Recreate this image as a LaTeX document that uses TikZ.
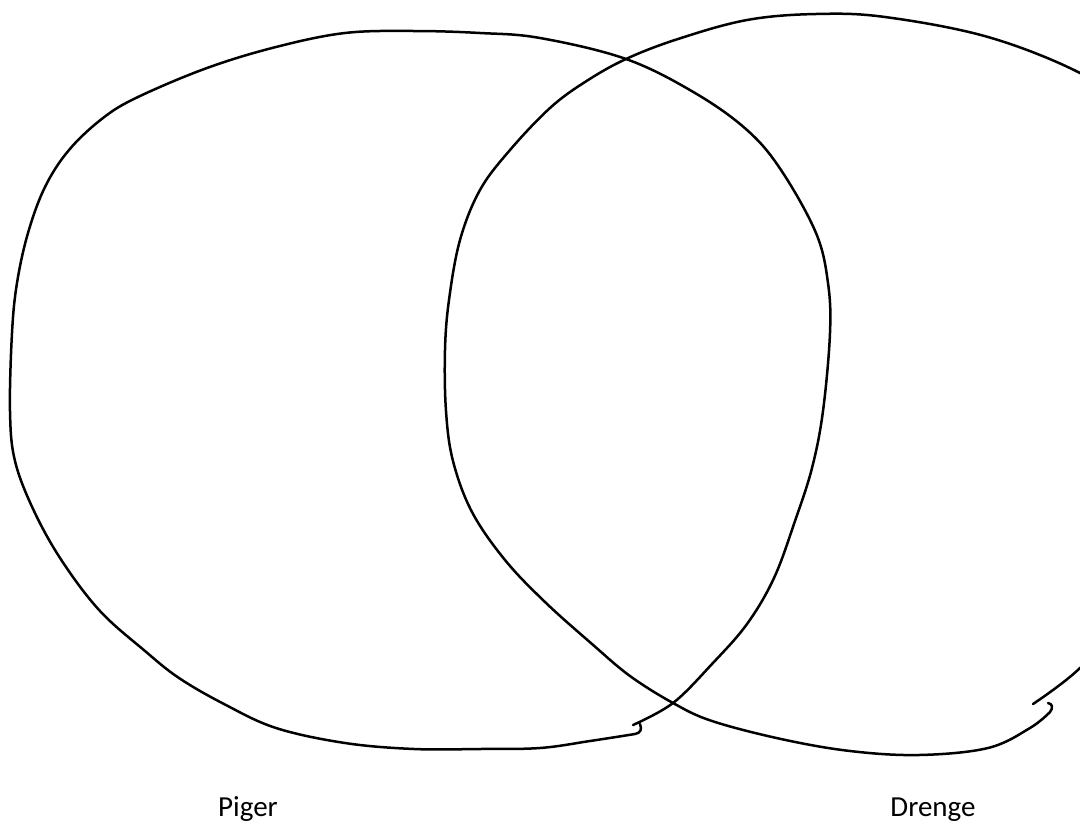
\documentclass[tikz,border=0pt]{standalone}
\usepackage{fontspec}
\setmainfont{Carlito}
\begin{document}
\begin{tikzpicture}[x=1pt,y=-1pt,
  loop/.style={line width=2.5pt,line cap=round,line join=round},
  lbl/.style={font=\fontsize{29}{31}\selectfont,anchor=base,inner sep=0pt}]
\useasboundingbox (0,0) rectangle (1080,822);
\clip (0,0) rectangle (1080,822);
% Piger loop
\draw[loop] (640,724) .. controls (642,729) and (641,733) .. (635,734)
  -- plot[smooth,tension=0.6] coordinates {(635,734) (590,741) (540,748) (480,749) (414,749) (345,743) (276,728) (224,704) (179,678) (145,651) (100,611) (62,561) (34,511) (15,461) (10,411) (12,333) (17,283) (28,233) (45,187) (69,150) (103,118) (138,97) (207,68) (276,47) (345,33) (414,31) (480,33) (540,38) (626,59) (695,93) (747,130) (781,170) (816,233) (828,283) (830,333) (823,411) (812,468) (795,521) (774,578) (747,624) (712,664) (673,703) (633,725)};
% Drenge loop
\draw[loop] (1048,703) .. controls (1053,704) and (1053,708) .. (1050,712)
  -- plot[smooth,tension=0.6] coordinates {(1050,712) (1030,728) (988,748) (919,755) (850,751) (781,739) (712,721) (673,703) (630,676) (592,644) (545,602) (505,560) (472,512) (453,461) (446,411) (445,350) (449,300) (460,240) (480,190) (510,150) (550,108) (585,82) (626,59) (678,39) (747,20) (816,14) (885,17) (988,37) (1080,73) (1135,112) (1170,180) (1185,330) (1170,500) (1130,610) (1080,668) (1033,704)};
\node[lbl] (piger) at (248,816) {Piger};
\node[lbl] (drenge) at (933,816) {Drenge};
\end{tikzpicture}
\end{document}
